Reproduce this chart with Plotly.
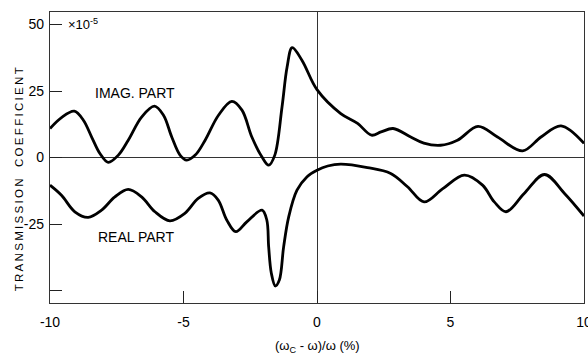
import plotly.graph_objects as go

# Imaginary part (x10^-5) vs (wc - w)/w in %
imag_x = [-10.00, -9.57, -9.09, -8.75, -8.44, -8.13, -7.82, -7.44, -7.07, -6.57,
          -6.09, -5.75, -5.44, -5.13, -4.88, -4.56, -4.19, -3.69, -3.19, -2.81,
          -2.44, -2.06, -1.81, -1.58, -1.31, -1.12, -0.93, -0.56, 0.00, 0.89,
          1.52, 2.04, 2.40, 2.85, 3.51, 4.00, 4.63, 5.26, 6.03, 6.76,
          7.70, 8.39, 9.14, 10.00]
imag_y = [10.9, 15.0, 17.4, 14.0, 7.7, 1.5, -1.8, 0.9, 6.5, 15.2,
          19.3, 15.9, 7.7, 0.9, -1.0, 0.9, 6.5, 15.9, 21.1, 17.8,
          7.7, 0.2, -2.9, 0.9, 19.0, 34.0, 41.3, 36.5, 25.5, 16.5,
          12.8, 8.4, 9.6, 10.9, 7.7, 5.4, 4.6, 6.5, 11.7, 7.7,
          2.5, 7.7, 11.9, 5.3]

# Real part
real_x = [-10.00, -9.57, -9.07, -8.57, -8.07, -7.57, -7.07, -6.57, -6.07, -5.51,
          -4.95, -4.45, -4.01, -3.70, -3.38, -3.04, -2.63, -2.06, -1.88, -1.81,
          -1.71, -1.56, -1.41, -1.25, -1.06, -0.75, -0.38, 0.00, 0.40, 0.89,
          1.89, 2.76, 3.39, 4.01, 4.70, 5.52, 6.20, 6.64, 7.08, 7.76,
          8.52, 9.27, 10.00]
real_y = [-10.4, -14.2, -20.4, -22.5, -19.8, -14.8, -12.0, -14.8, -20.4, -23.8,
          -21.0, -15.4, -13.3, -16.0, -23.5, -27.9, -24.2, -19.8, -23.5, -33.6,
          -43.5, -48.3, -46.1, -33.6, -22.3, -12.3, -7.3, -4.8, -3.2, -2.5,
          -3.8, -6.0, -11.0, -16.7, -11.8, -6.6, -10.4, -16.7, -20.4, -13.5,
          -6.4, -13.5, -22.0]

x_ticks = [-10, -5, 0, 5, 10]
x_ticktext = ["-10", "-5", "0", "5", "10"]
y_ticks = [-50, -25, 0, 25, 50]
y_ticktext = ["", "-25", "0", "25", "50"]

FONT = "Liberation Sans, Arial, sans-serif"

fig = go.Figure()
for xs, ys in ((imag_x, imag_y), (real_x, real_y)):
    fig.add_trace(go.Scatter(x=xs, y=ys, mode="lines",
                             line=dict(color="black", width=2.8, shape="spline", smoothing=1.0),
                             showlegend=False, hoverinfo="skip"))

title_text = "\u2009".join(list("TRANSMISSION")) + "\u2003" + "\u2009".join(list("COEFFICIENT"))

axis_common = dict(ticks="inside", ticklen=12, tickwidth=1, tickcolor="#222",
                   showgrid=False, zeroline=True, zerolinecolor="#333", zerolinewidth=1,
                   showline=True, mirror=True, linecolor="#333", linewidth=1.2,
                   automargin=False, ticklabeloverflow="allow",
                   tickfont=dict(size=14, family=FONT))

fig.update_layout(
    width=588, height=356,
    margin=dict(l=50, r=4, t=12, b=53, autoexpand=False),
    paper_bgcolor="white", plot_bgcolor="white",
    font=dict(family=FONT, size=13, color="black"),
    xaxis=dict(range=[-10, 10], tickvals=x_ticks, ticktext=x_ticktext,
               ticklabelstandoff=6, **axis_common),
    yaxis=dict(range=[-54.7, 54.7], tickvals=y_ticks, ticktext=y_ticktext,
               ticklabelstandoff=2, **axis_common),
    annotations=[
        dict(text=title_text, textangle=-90, xref="paper", yref="paper",
             x=-0.058, y=0.425, xanchor="center", yanchor="middle",
             showarrow=False, font=dict(size=11.5, family=FONT)),
        dict(text="\u00d710<sup>-5</sup>", xref="paper", yref="paper", x=0.03, y=0.96,
             xanchor="left", yanchor="middle", showarrow=False, font=dict(size=13)),
        dict(text="IMAG. PART", xref="x", yref="y", x=-6.82, y=24.3,
             showarrow=False, font=dict(size=14)),
        dict(text="REAL PART", xref="x", yref="y", x=-6.78, y=-29.7,
             showarrow=False, font=dict(size=14)),
        dict(text="(\u03c9<sub>C</sub> - \u03c9)/\u03c9 (%)", xref="x", yref="paper",
             x=0, y=-0.151, yanchor="middle", showarrow=False, font=dict(size=13)),
    ],
)

fig.write_html("out.html", config={"displayModeBar": False},
               post_script="document.body.style.margin='0px';document.body.style.overflow='hidden';")
